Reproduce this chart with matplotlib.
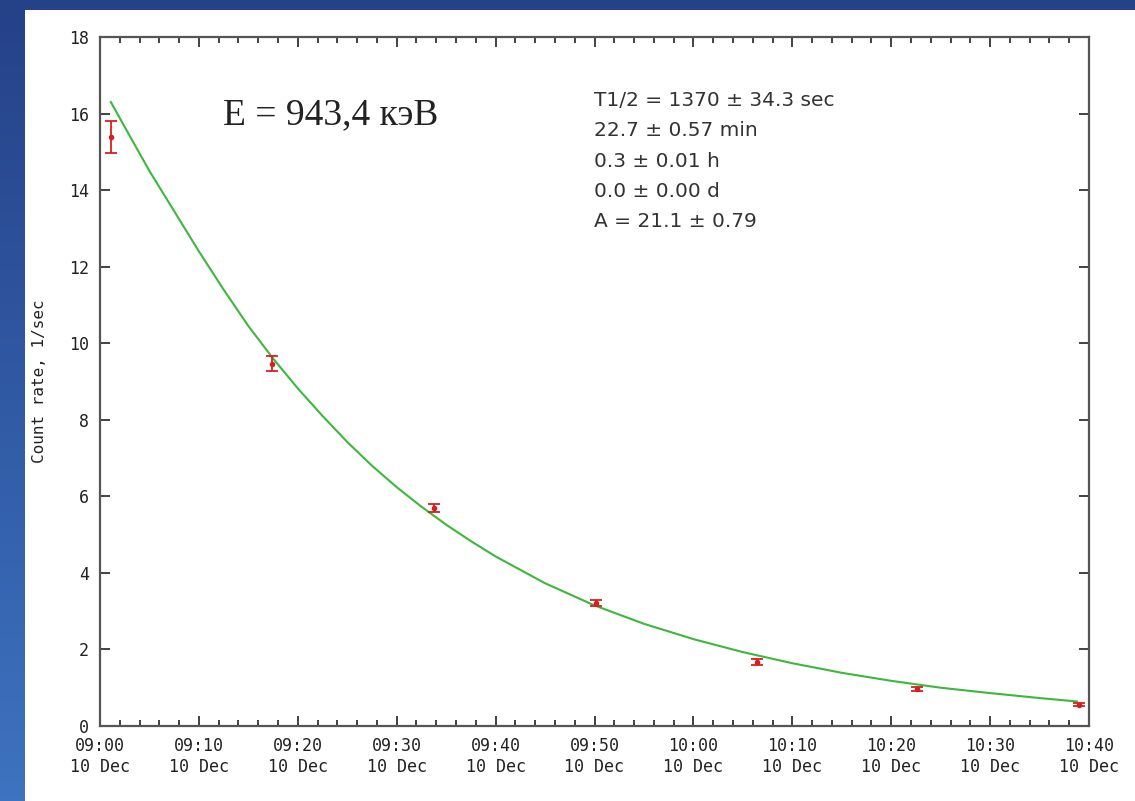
#!/usr/bin/env python3
"""
Decay curve of the 943.4 keV line: measured count rate with error bars
and the exponential fit drawn over it.
"""

import matplotlib
matplotlib.use("Agg")

import matplotlib.pyplot as plt
import numpy as np
from matplotlib.patches import Rectangle
from matplotlib.ticker import MultipleLocator

W, H, DPI = 1135, 801, 100

# Measurements: minutes after 09:00 on 10 Dec, count rate (1/sec), error
meas_time = [1.1, 17.4, 33.8, 50.2, 66.4, 82.6, 99.0]
meas_rate = [15.38, 9.47, 5.69, 3.21, 1.67, 0.97, 0.55]
meas_err = [0.42, 0.20, 0.10, 0.08, 0.07, 0.05, 0.04]

# Fitted curve, sampled along the time axis
fit_time = [1.1, 2.5, 5, 7.5, 10, 12.5, 15, 17.5, 20, 22.5, 25, 27.5, 30,
            32.5, 35, 37.5, 40, 45, 50, 55, 60, 65, 70, 75, 80, 85, 90, 95,
            98.8]
fit_rate = [16.3, 15.65, 14.5, 13.45, 12.4, 11.4, 10.45, 9.6, 8.82, 8.1,
            7.42, 6.8, 6.24, 5.73, 5.26, 4.83, 4.43, 3.73, 3.15, 2.67, 2.27,
            1.93, 1.64, 1.39, 1.18, 1.0, 0.86, 0.73, 0.64]

x_ticks = [0, 10, 20, 30, 40, 50, 60, 70, 80, 90, 100]
x_ticklabels = ["09:00\n10 Dec", "09:10\n10 Dec", "09:20\n10 Dec",
                "09:30\n10 Dec", "09:40\n10 Dec", "09:50\n10 Dec",
                "10:00\n10 Dec", "10:10\n10 Dec", "10:20\n10 Dec",
                "10:30\n10 Dec", "10:40\n10 Dec"]

fit_text = ("T1/2 = 1370 \u00b1 34.3 sec\n"
            "22.7 \u00b1 0.57 min\n"
            "0.3 \u00b1 0.01 h\n"
            "0.0 \u00b1 0.00 d\n"
            "A = 21.1 \u00b1 0.79")
energy_text = "E = 943,4 \u043a\u044d\u0412"

fig = plt.figure(figsize=(W / DPI, H / DPI), dpi=DPI)

# Slide-style blue backdrop with a white panel
bg = fig.add_axes([0, 0, 1, 1], zorder=-10)
grad = np.linspace(0, 1, 256).reshape(-1, 1)
top_c = np.array([0x25, 0x41, 0x88]) / 255
bot_c = np.array([0x3d, 0x73, 0xc0]) / 255
img = top_c + (bot_c - top_c) * grad[..., None]
bg.imshow(img.reshape(256, 1, 3), aspect="auto", extent=[0, 1, 0, 1])
bg.set_axis_off()
fig.patches.append(Rectangle((25 / W, 0), 1 - 25 / W, 1 - 10 / H,
                             transform=fig.transFigure, facecolor="white",
                             edgecolor="none", zorder=-5))

ax = fig.add_axes([100 / W, 1 - 726 / H, (1089 - 100) / W, (726 - 37) / H])
ax.set_facecolor("white")

ax.plot(fit_time, fit_rate, color="#3cb83c", linewidth=1.5, zorder=2)
ax.errorbar(meas_time, meas_rate, yerr=meas_err, fmt="o", markersize=3,
            color="#d42020", ecolor="#d42020", elinewidth=1.3, capsize=4,
            capthick=1.3, zorder=3)

ax.set_xlim(0, 100)
ax.set_ylim(0, 18)
ax.set_xticks(x_ticks)
ax.set_xticklabels(x_ticklabels)
ax.xaxis.set_minor_locator(MultipleLocator(2))
ax.yaxis.set_major_locator(MultipleLocator(2))

mono = "DejaVu Sans Mono"
ax.tick_params(which="both", direction="in", top=True, right=True,
               colors="#222222", labelsize=12)
ax.tick_params(which="major", length=7, width=1.2)
ax.tick_params(which="minor", length=4, width=1.2)
ax.tick_params(axis="x", pad=8)
ax.tick_params(axis="y", pad=8)
for lbl in ax.get_xticklabels() + ax.get_yticklabels():
    lbl.set_fontfamily(mono)
    lbl.set_color("#222222")
for sp in ax.spines.values():
    sp.set_color("#555555")
    sp.set_linewidth(1.6)

ax.set_ylabel("Count rate, 1/sec", fontfamily=mono, fontsize=11.5,
              color="#222222", labelpad=16)

ax.text(0.124, 0.887, energy_text, transform=ax.transAxes,
        fontfamily="Liberation Serif", fontsize=27, color="#222222",
        va="center", ha="left")
ax.text(0.4995, 0.922, fit_text, transform=ax.transAxes,
        fontfamily="DejaVu Sans", fontsize=14.5, color="#333333",
        va="top", ha="left", linespacing=1.76)

fig.savefig("out.png", dpi=DPI)
print("Saved: out.png")
